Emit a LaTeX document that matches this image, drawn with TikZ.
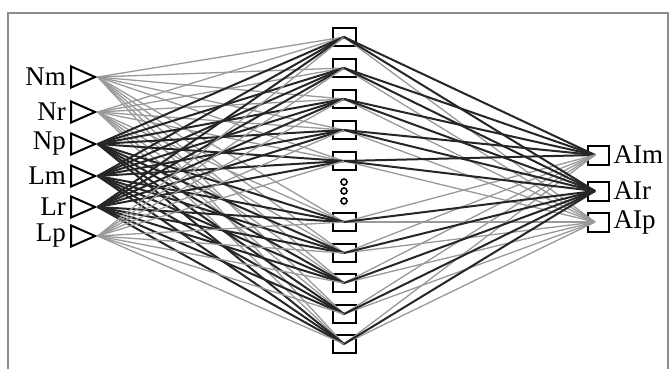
\documentclass[tikz,border=0pt]{standalone}
\usepackage{fontspec}
\setmainfont{Liberation Serif}
\usetikzlibrary{positioning,shapes.geometric}

\begin{document}
\begin{tikzpicture}[x=1pt, y=-1pt,
  inp/.style={draw, isosceles triangle, isosceles triangle stretches, minimum width=21pt, minimum height=24pt, inner sep=0pt, line width=2pt},
  hid/.style={draw, rectangle, minimum width=23pt, minimum height=18pt, inner sep=0pt, line width=2pt},
  outp/.style={draw, rectangle, minimum width=21pt, minimum height=19pt, inner sep=0pt, line width=2pt},
  gap/.style={draw, circle, minimum size=6pt, inner sep=0pt, line width=1.6pt},
  lbl/.style={font=\fontsize{27}{29}\selectfont, inner sep=0pt},
  dark/.style={black!85, line width=2pt},
  light/.style={black!40, line width=1.3pt}
]
\useasboundingbox (0,0) rectangle (671,369);
\draw[black!45, line width=1.5pt] (8,369) -- (8,13) -- (668,13) -- (668,369);

% input layer
\node[inp] (in1) at (78,77) {};
\node[inp] (in2) at (78,112) {};
\node[inp] (in3) at (78,144) {};
\node[inp] (in4) at (78,176) {};
\node[inp] (in5) at (78,207) {};
\node[inp] (in6) at (78,236) {};
\node[lbl, left=4pt of in1] (t1) {Nm};
\node[lbl, left=4pt of in2] (t2) {Nr};
\node[lbl, left=4pt of in3] (t3) {Np};
\node[lbl, left=4pt of in4] (t4) {Lm};
\node[lbl, left=4pt of in5] (t5) {Lr};
\node[lbl, left=4pt of in6] (t6) {Lp};

% hidden layer
\foreach \j/\y in {1/37,2/68,3/99,4/130,5/161,6/222,7/253,8/283,9/314,10/344}
  \node[hid] (hid\j) at (344,\y) {};
\node[gap] (g1) at (344,182) {};
\node[gap] (g2) at (344,191) {};
\node[gap] (g3) at (344,201) {};

% output layer
\node[outp] (out1) at (598,155) {};
\node[outp] (out2) at (598,191) {};
\node[outp] (out3) at (598,222) {};
\node[lbl, right=4pt of out1] (u1) {AIm};
\node[lbl, right=4pt of out2] (u2) {AIr};
\node[lbl, right=4pt of out3] (u3) {AIp};

% connections
\foreach \i/\s in {1/light,2/light,3/dark,4/dark,5/dark,6/light}
  \foreach \j in {1,...,10}
    \draw[\s] (in\i.apex) -- (hid\j.center);
\foreach \j in {1,...,10}
  \draw[light] (hid\j.center) -- ([xshift=-3pt]out3.center);
\foreach \j/\s in {1/dark,2/dark,3/dark,4/dark,5/dark,6/light,7/light,8/light,9/light,10/light}
  \draw[\s] (hid\j.center) -- ([xshift=-3pt]out1.center);
\foreach \j in {1,...,10}
  \draw[dark] (hid\j.center) -- ([xshift=-3pt]out2.center);
\end{tikzpicture}
\end{document}
